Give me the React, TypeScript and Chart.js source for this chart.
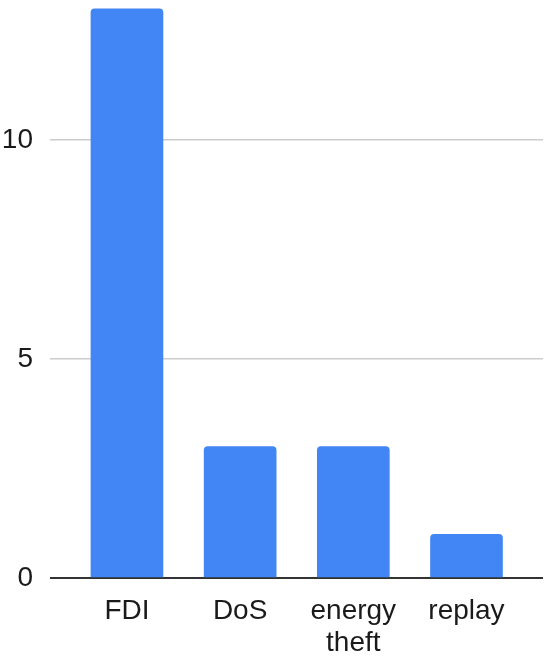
import React, { useEffect, useRef } from "react";
import { Chart, registerables } from "chart.js";

Chart.register(...registerables);

const categories: (string | string[])[] = ["FDI", "DoS", ["energy", "theft"], "replay"];
const values: number[] = [13, 3, 3, 1];
const yTicks: number[] = [0, 5, 10];

const FONT = '"Liberation Sans", Arial, Helvetica, sans-serif';

export default function App() {
  const ref = useRef<HTMLCanvasElement | null>(null);

  useEffect(() => {
    if (!ref.current) return;
    const chart = new Chart(ref.current, {
      type: "bar",
      data: {
        datasets: [
          {
            data: values.map((v, i) => ({ x: i, y: v })),
            backgroundColor: "#4285F4",
            borderRadius: 4,
            borderSkipped: "start",
            barThickness: 72,
          },
        ],
      },
      options: {
        animation: false,
        responsive: true,
        maintainAspectRatio: false,
        layout: { padding: { top: 7, right: 7, left: 0, bottom: 0 } },
        plugins: { legend: { display: false }, tooltip: { enabled: false } },
        scales: {
          x: {
            type: "linear",
            offset: false,
            min: -0.68,
            max: 3.676,
            grid: { display: false, drawTicks: false, offset: false },
            border: { display: false },
            afterBuildTicks: (scale: any) => {
              scale.ticks = categories.map((_, i) => ({ value: i }));
            },
            afterFit: (scale: any) => {
              scale.height = 83;
              scale.paddingLeft = 0;
              scale.paddingRight = 0;
            },
            ticks: {
              autoSkip: false,
              maxRotation: 0,
              padding: 17,
              color: "#1a1a1a",
              font: { family: FONT, size: 28, lineHeight: 1.15 },
              callback: (v: any) => categories[Math.round(Number(v))] as any,
            },
          },
          y: {
            min: 0,
            max: 13.04,
            border: { display: false },
            grid: {
              drawTicks: false,
              color: (ctx: any) => (ctx.tick && ctx.tick.value === 0 ? "#333" : "#cccccc"),
              lineWidth: (ctx: any) => (ctx.tick && ctx.tick.value === 0 ? 2 : 1.5),
            },
            afterBuildTicks: (scale: any) => {
              scale.ticks = yTicks.map((v) => ({ value: v }));
            },
            afterFit: (scale: any) => {
              scale.width = 50;
              scale.paddingTop = 0;
              scale.paddingBottom = 0;
            },
            ticks: {
              padding: 17,
              color: "#1a1a1a",
              font: { family: FONT, size: 28 },
            },
          },
        },
      },
    } as any);
    return () => chart.destroy();
  }, []);

  return (
    <div style={{ position: "fixed", left: 0, top: 0, width: 550, height: 661, background: "#fff" }}>
      <canvas ref={ref} />
    </div>
  );
}
